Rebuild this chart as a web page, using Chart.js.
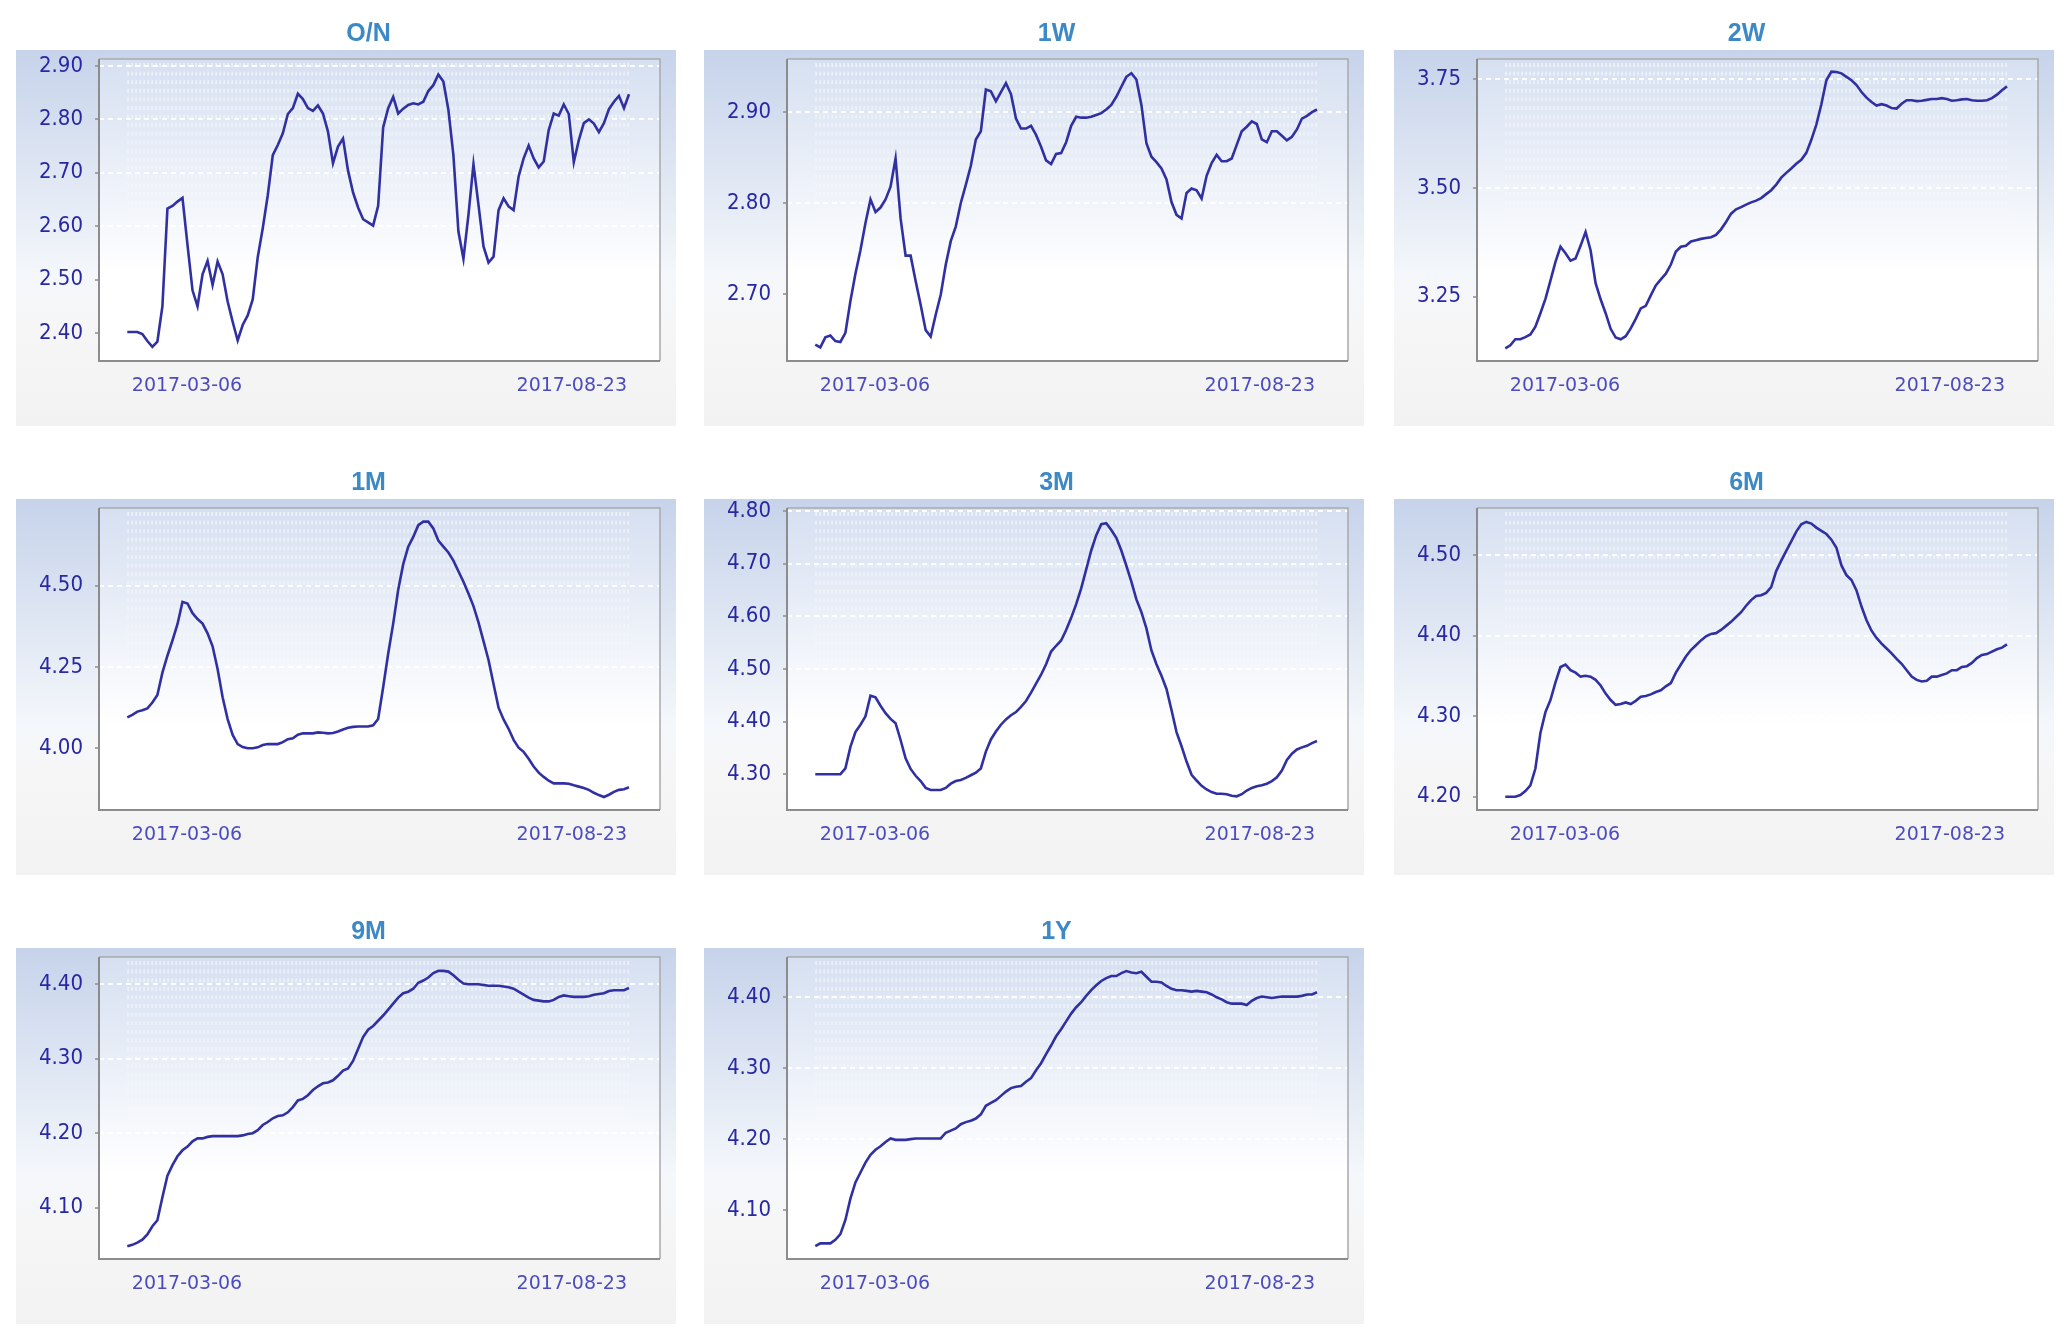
<!DOCTYPE html>
<html><head><meta charset="utf-8">
<script src="https://cdn.jsdelivr.net/npm/chart.js@4.4.1/dist/chart.umd.min.js"></script>
<style>
html,body{margin:0;padding:0;background:#fff;width:2066px;height:1333px;overflow:hidden}
canvas.p{position:absolute}
</style></head><body>
<script>
// ---- data ----
const tenors = ['O/N','1W','2W','1M','3M','6M','9M','1Y'];
const xTickLabels = ['2017-03-06','2017-08-23'];
const xTickIndex = [11.9, 88.6];

const valsON = [2.402,2.402,2.402,2.398,2.385,2.374,2.384,2.45,2.633,2.638,
2.646,2.653,2.565,2.48,2.45,2.510,2.535,2.49,2.534,2.51,
2.459,2.421,2.386,2.415,2.433,2.463,2.542,2.596,2.658,2.733,
2.752,2.774,2.810,2.821,2.848,2.838,2.821,2.816,2.826,2.811,
2.777,2.718,2.749,2.764,2.704,2.663,2.635,2.613,2.607,2.601,
2.638,2.785,2.821,2.842,2.811,2.820,2.827,2.830,2.828,2.833,
2.853,2.864,2.884,2.871,2.818,2.733,2.590,2.539,2.621,2.716,
2.640,2.562,2.532,2.543,2.630,2.652,2.637,2.630,2.693,2.727,
2.751,2.727,2.710,2.721,2.780,2.811,2.807,2.828,2.810,2.720,
2.761,2.793,2.800,2.792,2.776,2.793,2.819,2.833,2.844,2.821,
2.847];
const vals1W = [2.644,2.641,2.652,2.654,2.648,2.647,2.657,2.692,2.722,2.748,
2.778,2.804,2.790,2.795,2.804,2.818,2.849,2.783,2.742,2.742,
2.714,2.688,2.660,2.653,2.677,2.699,2.732,2.758,2.774,2.800,
2.820,2.841,2.870,2.879,2.925,2.923,2.912,2.922,2.932,2.920,
2.893,2.882,2.882,2.885,2.875,2.862,2.847,2.843,2.854,2.855,
2.867,2.885,2.895,2.894,2.894,2.895,2.897,2.899,2.903,2.908,
2.917,2.928,2.939,2.943,2.936,2.908,2.866,2.851,2.845,2.838,
2.826,2.801,2.787,2.783,2.811,2.816,2.814,2.805,2.830,2.844,
2.853,2.846,2.846,2.849,2.864,2.879,2.884,2.890,2.887,2.870,
2.867,2.879,2.879,2.874,2.869,2.873,2.881,2.893,2.896,2.900,
2.903];
const vals2W = [3.131,3.138,3.152,3.152,3.157,3.163,3.181,3.212,3.245,3.287,
3.330,3.365,3.350,3.333,3.338,3.367,3.399,3.357,3.281,3.244,
3.212,3.176,3.156,3.152,3.159,3.177,3.199,3.223,3.229,3.253,
3.276,3.290,3.303,3.324,3.354,3.365,3.367,3.377,3.380,3.383,
3.385,3.387,3.392,3.405,3.422,3.441,3.451,3.456,3.462,3.467,
3.471,3.477,3.486,3.495,3.508,3.524,3.535,3.545,3.556,3.565,
3.581,3.611,3.646,3.693,3.748,3.768,3.767,3.764,3.756,3.748,
3.737,3.721,3.708,3.698,3.690,3.693,3.690,3.684,3.683,3.694,
3.702,3.702,3.700,3.701,3.703,3.705,3.705,3.707,3.705,3.701,
3.702,3.704,3.705,3.702,3.701,3.701,3.702,3.707,3.715,3.725,
3.734];
const vals1M = [4.094,4.102,4.112,4.116,4.122,4.140,4.163,4.232,4.284,4.331,
4.381,4.450,4.445,4.415,4.397,4.383,4.353,4.313,4.243,4.156,
4.089,4.040,4.012,4.003,3.999,3.999,4.002,4.009,4.012,4.012,
4.012,4.018,4.027,4.030,4.041,4.045,4.045,4.045,4.048,4.047,
4.045,4.046,4.051,4.057,4.062,4.065,4.066,4.066,4.066,4.070,
4.089,4.187,4.290,4.383,4.487,4.566,4.620,4.650,4.686,4.697,
4.697,4.676,4.639,4.620,4.602,4.577,4.544,4.512,4.476,4.437,
4.387,4.329,4.271,4.197,4.124,4.088,4.059,4.025,4.001,3.988,
3.967,3.943,3.924,3.911,3.899,3.891,3.891,3.891,3.890,3.885,
3.881,3.877,3.871,3.862,3.855,3.849,3.856,3.865,3.871,3.873,
3.879];
const vals3M = [4.300,4.300,4.300,4.300,4.300,4.300,4.311,4.352,4.380,4.394,
4.410,4.449,4.446,4.430,4.416,4.405,4.397,4.365,4.330,4.310,
4.297,4.287,4.274,4.270,4.270,4.270,4.274,4.282,4.287,4.289,
4.293,4.298,4.303,4.311,4.343,4.366,4.381,4.394,4.404,4.412,
4.418,4.428,4.439,4.455,4.472,4.489,4.509,4.533,4.544,4.554,
4.574,4.597,4.623,4.653,4.689,4.725,4.754,4.775,4.777,4.764,
4.749,4.725,4.696,4.666,4.632,4.608,4.577,4.535,4.509,4.487,
4.462,4.422,4.380,4.353,4.324,4.299,4.288,4.278,4.271,4.266,
4.263,4.263,4.262,4.259,4.258,4.262,4.269,4.274,4.277,4.279,
4.282,4.287,4.294,4.307,4.327,4.339,4.347,4.351,4.354,4.359,
4.363];
const vals6M = [4.200,4.200,4.200,4.202,4.207,4.214,4.235,4.279,4.305,4.320,
4.342,4.361,4.364,4.357,4.354,4.349,4.350,4.349,4.345,4.338,
4.328,4.320,4.314,4.315,4.317,4.315,4.319,4.324,4.325,4.327,
4.330,4.332,4.337,4.341,4.354,4.364,4.374,4.382,4.388,4.394,
4.399,4.402,4.403,4.407,4.412,4.417,4.423,4.429,4.437,4.444,
4.449,4.450,4.453,4.460,4.480,4.493,4.505,4.517,4.529,4.538,
4.541,4.539,4.534,4.530,4.526,4.519,4.509,4.487,4.475,4.469,
4.456,4.436,4.419,4.406,4.397,4.390,4.384,4.378,4.371,4.365,
4.357,4.349,4.345,4.343,4.344,4.349,4.349,4.351,4.353,4.357,
4.357,4.361,4.362,4.366,4.372,4.376,4.377,4.380,4.383,4.385,
4.389];
const vals9M = [4.048,4.050,4.053,4.057,4.064,4.075,4.083,4.114,4.143,4.157,
4.169,4.177,4.182,4.189,4.193,4.193,4.195,4.196,4.196,4.196,
4.196,4.196,4.196,4.197,4.199,4.200,4.204,4.211,4.215,4.220,
4.223,4.224,4.228,4.235,4.244,4.246,4.251,4.258,4.263,4.267,
4.268,4.271,4.277,4.284,4.287,4.297,4.313,4.329,4.339,4.344,
4.351,4.358,4.366,4.374,4.382,4.388,4.390,4.394,4.402,4.405,
4.409,4.415,4.418,4.418,4.417,4.412,4.406,4.401,4.400,4.400,
4.400,4.399,4.398,4.398,4.398,4.397,4.396,4.394,4.390,4.386,
4.382,4.379,4.378,4.377,4.377,4.379,4.383,4.385,4.384,4.383,
4.383,4.383,4.384,4.386,4.387,4.388,4.391,4.392,4.392,4.392,
4.395];
const vals1Y = [4.049,4.053,4.053,4.053,4.058,4.066,4.086,4.116,4.139,4.153,
4.167,4.178,4.185,4.190,4.196,4.201,4.199,4.199,4.199,4.200,
4.201,4.201,4.201,4.201,4.201,4.201,4.209,4.212,4.215,4.221,
4.224,4.226,4.229,4.235,4.247,4.251,4.255,4.261,4.267,4.272,
4.274,4.275,4.281,4.286,4.297,4.307,4.320,4.332,4.345,4.355,
4.366,4.377,4.386,4.393,4.402,4.410,4.417,4.423,4.427,4.430,
4.430,4.434,4.437,4.435,4.434,4.436,4.429,4.422,4.422,4.421,
4.416,4.412,4.410,4.410,4.409,4.408,4.409,4.408,4.407,4.404,
4.400,4.397,4.393,4.391,4.391,4.391,4.389,4.395,4.399,4.401,
4.400,4.399,4.400,4.401,4.401,4.401,4.401,4.402,4.404,4.404,
4.407];

const yTicksON = [2.40,2.50,2.60,2.70,2.80,2.90];
const yTicks1W = [2.70,2.80,2.90];
const yTicks2W = [3.25,3.50,3.75];
const yTicks1M = [4.00,4.25,4.50];
const yTicks3M = [4.30,4.40,4.50,4.60,4.70,4.80];
const yTicks6M = [4.20,4.30,4.40,4.50];
const yTicks9M = [4.10,4.20,4.30,4.40];
const yTicks1Y = [4.10,4.20,4.30,4.40];

// ---- layout / axis ranges (not data) ----
const seriesList = [valsON, vals1W, vals2W, vals1M, vals3M, vals6M, vals9M, vals1Y];
const tickList = [yTicksON, yTicks1W, yTicks2W, yTicks1M, yTicks3M, yTicks6M, yTicks9M, yTicks1Y];
const yRanges = [[2.3476,2.913],[2.626,2.9586],[3.102,3.797],[3.809,4.739],[4.232,4.8057],[4.1835,4.5583],[4.031,4.4366],[4.031,4.4568]];
const colLeft = [16, 704, 1394];
const rowTop = [14, 463, 912];
const X_MIN = -5.64, X_MAX = 106.18;
const TITLE_SHIFT = 61;

const panelBg = {
  id: 'panelBg',
  afterLayout(chart) {
    if (chart.titleBlock) chart.titleBlock.left += TITLE_SHIFT;
  },
  beforeDraw(chart) {
    const {ctx, width, height, chartArea: a} = chart;
    ctx.save();
    const top = 36;
    let g = ctx.createLinearGradient(0, top, 0, height);
    g.addColorStop(0, '#c6d3ea');
    g.addColorStop(0.6, '#f4f7fb');
    g.addColorStop(0.72, '#f6f6f7');
    g.addColorStop(1, '#f2f2f2');
    ctx.fillStyle = g;
    ctx.fillRect(0, top, width, height - top);
    g = ctx.createLinearGradient(0, a.top, 0, a.bottom);
    g.addColorStop(0, '#d6e0f1');
    g.addColorStop(0.72, '#ffffff');
    g.addColorStop(1, '#ffffff');
    ctx.fillStyle = g;
    ctx.fillRect(a.left, a.top, a.right - a.left, a.bottom - a.top);
    // dotted texture
    const xs = chart.scales.x;
    const x0 = xs.getPixelForValue(0), x1 = xs.getPixelForValue(100);
    const lim = (a.bottom - a.top) * 0.78;
    for (let y = a.top + 4; y < a.top + lim; y += 8.6) {
      const t = (y - a.top) / lim;
      ctx.fillStyle = 'rgba(255,255,255,' + (0.6 * (1 - t)).toFixed(3) + ')';
      for (let x = x0; x < x1; x += 4) ctx.fillRect(x, y, 1.6, 4);
    }
    ctx.restore();
  },
  afterDraw(chart) {
    const {ctx, chartArea: a} = chart;
    ctx.save();
    ctx.strokeStyle = '#a9a9a9';
    ctx.lineWidth = 1.5;
    ctx.beginPath();
    ctx.moveTo(a.left, a.top); ctx.lineTo(a.right, a.top); ctx.lineTo(a.right, a.bottom);
    ctx.stroke();
    ctx.strokeStyle = '#8c8c8c';
    ctx.lineWidth = 2;
    ctx.beginPath();
    ctx.moveTo(a.left, a.top); ctx.lineTo(a.left, a.bottom); ctx.lineTo(a.right, a.bottom);
    ctx.stroke();
    ctx.restore();
  }
};

tenors.forEach((name, k) => {
  const cv = document.createElement('canvas');
  cv.className = 'p';
  cv.width = 660; cv.height = 412;
  cv.style.left = colLeft[k % 3] + 'px';
  cv.style.top = rowTop[Math.floor(k / 3)] + 'px';
  cv.style.width = '660px'; cv.style.height = '412px';
  document.body.appendChild(cv);
  const vals = seriesList[k];
  const yt = tickList[k];
  new Chart(cv, {
    type: 'line',
    data: {
      datasets: [{
        data: vals.map((v, i) => ({x: i, y: v})),
        borderColor: '#3030a2',
        borderWidth: 2.6,
        pointRadius: 0,
        tension: 0,
        fill: false
      }]
    },
    options: {
      responsive: false,
      animation: false,
      devicePixelRatio: 1,
      layout: {padding: {left: 0, right: 16, top: 0, bottom: 0}},
      plugins: {
        legend: {display: false},
        tooltip: {enabled: false},
        title: {
          display: true,
          text: name,
          color: '#3d89c6',
          font: {family: "'Liberation Sans', Arial, sans-serif", size: 25, weight: 'bold', lineHeight: 1.2},
          padding: {top: 5, bottom: 10}
        }
      },
      scales: {
        x: {
          type: 'linear',
          min: X_MIN, max: X_MAX,
          grid: {display: false},
          border: {display: false},
          afterFit(s) { s.height = 65; },
          afterBuildTicks(s) { s.ticks = xTickIndex.map(v => ({value: v})); },
          ticks: {
            autoSkip: false, maxRotation: 0, padding: 5.5,
            color: '#4c4cc0',
            font: {family: "'DejaVu Sans', sans-serif", size: 19},
            callback: (v, i) => xTickLabels[i]
          }
        },
        y: {
          type: 'linear',
          min: yRanges[k][0], max: yRanges[k][1],
          grid: {
            color: 'rgba(255,255,255,0.95)', lineWidth: 2,
            drawTicks: true, tickLength: 4, tickColor: '#8c8c8c', tickWidth: 1.5
          },
          border: {display: false, dash: [5, 4]},
          afterFit(s) { s.width = 83; },
          afterBuildTicks(s) { s.ticks = yt.map(v => ({value: v})); },
          ticks: {
            padding: 12,
            color: '#2828a4',
            font: {family: "'DejaVu Sans Condensed', 'DejaVu Sans', sans-serif", size: 22},
            callback: v => Number(v).toFixed(2)
          }
        }
      }
    },
    plugins: [panelBg]
  });
});
</script>
</body></html>
